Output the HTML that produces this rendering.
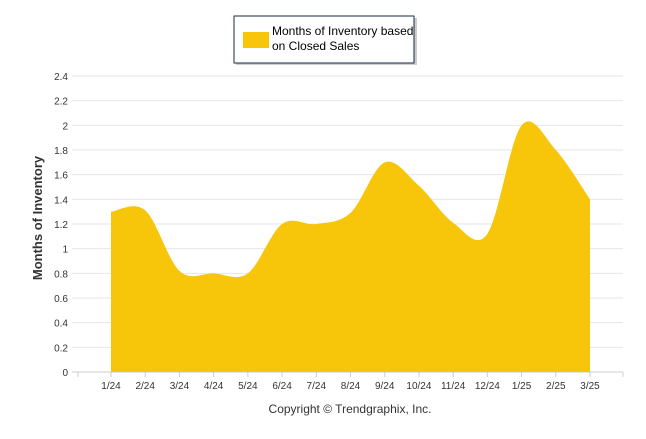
<!DOCTYPE html>
<html><head><meta charset="utf-8"><style>
body{margin:0;background:#fff;font-family:"Liberation Sans",sans-serif;}
svg text{font-family:"Liberation Sans",sans-serif;}
</style></head><body>
<svg width="646" height="434" xmlns="http://www.w3.org/2000/svg">
<rect x="0" y="0" width="646" height="434" fill="#fff"/>
<g>
<rect x="236" y="18" width="181" height="47" fill="#999" opacity="0.5"/>
<rect x="234" y="16" width="180" height="47" fill="#fff" stroke="#1a2a4a" stroke-width="1"/>
<rect x="243" y="32" width="26" height="16" fill="#f7c50a"/>
<text x="272" y="35" font-size="12" fill="#000">Months of Inventory based</text>
<text x="272" y="50" font-size="12" fill="#000">on Closed Sales</text>
</g>
<g id="grid"></g>
<g id="yticks"></g>
<path id="area" fill="#f7c50a"/>
<g id="xticks"></g>
<text transform="translate(42,218) rotate(-90)" text-anchor="middle" font-size="13" font-weight="bold" fill="#333">Months of Inventory</text>
<text x="350" y="413" text-anchor="middle" font-size="12" fill="#333">Copyright © Trendgraphix, Inc.</text>
</svg>
<script>
const categories=["1/24","2/24","3/24","4/24","5/24","6/24","7/24","8/24","9/24","10/24","11/24","12/24","1/25","2/25","3/25"];
const values=[1.3,1.31,0.82,0.8,0.8,1.2,1.2,1.29,1.7,1.51,1.21,1.12,2.0,1.8,1.4];
const yTicks=[0,0.2,0.4,0.6,0.8,1,1.2,1.4,1.6,1.8,2,2.2,2.4];
const NS="http://www.w3.org/2000/svg";
const x0=111,x1=590,yB=372,yT=76,yMax=2.4;
const xs=i=>x0+(x1-x0)*i/(categories.length-1);
const ys=v=>yB-(yB-yT)*v/yMax;
const grid=document.getElementById('grid'),yt=document.getElementById('yticks'),xt=document.getElementById('xticks');
yTicks.forEach(t=>{
 const l=document.createElementNS(NS,'line');
 l.setAttribute('x1',72);l.setAttribute('x2',623);l.setAttribute('y1',ys(t));l.setAttribute('y2',ys(t));
 l.setAttribute('stroke',t===0?'#ccc':'#e6e6e6');
 
 
 grid.appendChild(l);
 const tx=document.createElementNS(NS,'text');
 tx.setAttribute('x',68);tx.setAttribute('y',ys(t)+4);tx.setAttribute('text-anchor','end');tx.setAttribute('font-size','10');tx.setAttribute('fill','#333');
 tx.textContent=t;
 
 
 yt.appendChild(tx);
});
[78,623].forEach(px=>{const l=document.createElementNS(NS,'line');l.setAttribute('x1',px);l.setAttribute('x2',px);l.setAttribute('y1',372);l.setAttribute('y2',377);l.setAttribute('stroke','#ccc');
 
 
 xt.appendChild(l);});
categories.forEach((c,i)=>{
 const l=document.createElementNS(NS,'line');
 l.setAttribute('x1',xs(i));l.setAttribute('x2',xs(i));l.setAttribute('y1',372);l.setAttribute('y2',377);l.setAttribute('stroke','#ccc');
 
 
 xt.appendChild(l);
 const tx=document.createElementNS(NS,'text');
 tx.setAttribute('x',xs(i));tx.setAttribute('y',389);tx.setAttribute('text-anchor','middle');tx.setAttribute('font-size','10');tx.setAttribute('fill','#333');
 tx.textContent=c;
 
 
 xt.appendChild(tx);
});
const pts=values.map((v,i)=>[xs(i),ys(v)]);
let d=`M${pts[0][0]},${yB} L${pts[0][0]},${pts[0][1]}`;
for(let i=0;i<pts.length-1;i++){
 const p0=pts[Math.max(i-1,0)],p1=pts[i],p2=pts[i+1],p3=pts[Math.min(i+2,pts.length-1)];
 const k=1/6;
 d+=` C${p1[0]+(p2[0]-p0[0])*k},${p1[1]+(p2[1]-p0[1])*k} ${p2[0]-(p3[0]-p1[0])*k},${p2[1]-(p3[1]-p1[1])*k} ${p2[0]},${p2[1]}`;
}
d+=` L${pts[pts.length-1][0]},${yB} Z`;
document.getElementById('area').setAttribute('d',d);
</script>
</body></html>
